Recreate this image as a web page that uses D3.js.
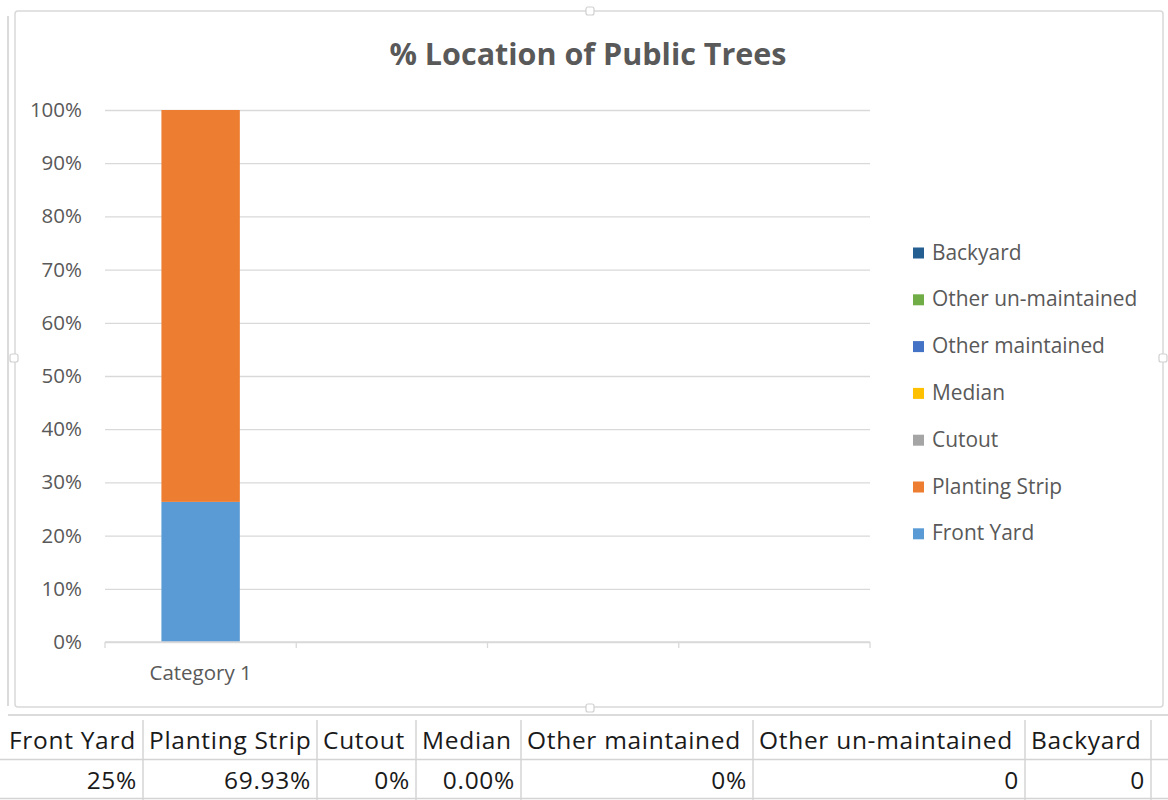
<!DOCTYPE html>
<html>
<head>
<meta charset="utf-8">
<script src="https://cdn.jsdelivr.net/npm/d3@7"></script>
<style>
  body { margin: 0; background: #fff; }
  svg { display: block; font-family: "Open Sans", Lato, sans-serif; }
</style>
</head>
<body>
<div id="chart"></div>
<script>
// data
const series = ["Front Yard", "Planting Strip", "Cutout", "Median", "Other maintained", "Other un-maintained", "Backyard"]
const values = [0.25, 0.6993, 0, 0, 0, 0, 0]
const tableValues = ["25%", "69.93%", "0%", "0.00%", "0%", "0", "0"]
const categories = ["Category 1", "", "", ""]
const colors = ["#5b9bd5", "#ed7d31", "#a5a5a5", "#ffc000", "#4472c4", "#70ad47", "#255e91"]

const width = 1168, height = 800
const plot = { left: 105, right: 870, top: 110, bottom: 642 }
const grey = "#595959", line = "#d9d9d9"

const svg = d3.select("#chart").append("svg")
    .attr("width", width)
    .attr("height", height)

// chart frame + selection handles
svg.append("path")
    .attr("d", "M8,16 V706 M8,715 H1168")
    .attr("fill", "none").attr("stroke", "#d0d0d0").attr("stroke-width", 1.5)
svg.append("rect")
    .attr("x", 15).attr("y", 11).attr("width", 1148).attr("height", 696).attr("rx", 3)
    .attr("fill", "#fff").attr("stroke", line).attr("stroke-width", 1.5)
svg.selectAll(".handle")
    .data([[590, 11], [590, 708], [14, 358], [1163, 358]])
    .enter().append("rect")
    .attr("class", "handle")
    .attr("x", d => d[0] - 4).attr("y", d => d[1] - 4)
    .attr("width", 8).attr("height", 8).attr("rx", 2)
    .attr("fill", "#fff").attr("stroke", "#d0d0d0").attr("stroke-width", 1.2)

svg.append("text")
    .attr("x", 588).attr("y", 65)
    .attr("text-anchor", "middle")
    .attr("font-size", 30.5).attr("font-weight", "bold")
    .attr("fill", grey)
    .text("% Location of Public Trees")

const x = d3.scaleBand()
    .domain(d3.range(categories.length))
    .range([plot.left, plot.right])
    .paddingInner(0.59).paddingOuter(0.295)

const y = d3.scaleLinear().domain([0, 1]).range([plot.bottom, plot.top])

// gridlines + y labels
const yAxis = svg.append("g")
    .attr("transform", `translate(${plot.left},0)`)
    .call(d3.axisLeft(y).ticks(10, "~%").tickSize(-(plot.right - plot.left)).tickPadding(23))
yAxis.select(".domain").remove()
yAxis.selectAll("line").attr("stroke", line).attr("stroke-width", 1.3)
yAxis.selectAll("text").attr("fill", grey).attr("font-size", 20.5).attr("font-family", "Open Sans")

const row = {}
series.forEach((s, i) => row[s] = values[i])
const stacked = d3.stack().keys(series).offset(d3.stackOffsetExpand)([row])

svg.append("g").selectAll("rect")
    .data(stacked)
    .enter().append("rect")
    .attr("x", x(0))
    .attr("width", x.bandwidth())
    .attr("y", d => y(d[0][1]))
    .attr("height", d => y(d[0][0]) - y(d[0][1]))
    .attr("fill", (d, i) => colors[i])

// category axis with ticks at band edges
const xAxis = svg.append("g").attr("transform", `translate(0,${plot.bottom})`)
xAxis.append("line")
    .attr("x1", plot.left).attr("x2", plot.right)
    .attr("stroke", line).attr("stroke-width", 1.3)
const step = x.step()
xAxis.selectAll(".tick")
    .data(d3.range(categories.length + 1))
    .enter().append("line")
    .attr("x1", i => plot.left + i * step).attr("x2", i => plot.left + i * step)
    .attr("y1", 0).attr("y2", 6)
    .attr("stroke", line).attr("stroke-width", 1.3)
xAxis.selectAll(".cat")
    .data(categories)
    .enter().append("text")
    .attr("x", (d, i) => x(i) + x.bandwidth() / 2)
    .attr("y", 38)
    .attr("text-anchor", "middle")
    .attr("font-size", 20.5).attr("fill", grey)
    .text(d => d)

// legend, drawn top-down in reverse series order
const legend = svg.append("g").selectAll("g")
    .data(series.map((s, i) => ({ s, c: colors[i] })).reverse())
    .enter().append("g")
    .attr("transform", (d, i) => `translate(913,${252 + i * 46.8})`)
legend.append("rect")
    .attr("x", 0).attr("y", -4.5).attr("width", 11).attr("height", 11)
    .attr("fill", d => d.c)
legend.append("text")
    .attr("x", 19).attr("y", 7.5)
    .attr("font-size", 20.9).attr("fill", grey)
    .text(d => d.s)

// spreadsheet rows below the chart
const colEdges = [0, 143, 317, 416, 521, 753, 1025, 1151]
const sheet = svg.append("g").attr("font-size", 24.5).attr("letter-spacing", 0.7).attr("fill", "#1a1a1a")
sheet.selectAll(".vline")
    .data(colEdges.slice(1))
    .enter().append("line")
    .attr("x1", d => d).attr("x2", d => d)
    .attr("y1", 720).attr("y2", 800)
    .attr("stroke", "#d4d4d4").attr("stroke-width", 1.5)
sheet.selectAll(".hline")
    .data([759.5, 798.5])
    .enter().append("line")
    .attr("x1", 0).attr("x2", 1168)
    .attr("y1", d => d).attr("y2", d => d)
    .attr("stroke", "#d4d4d4").attr("stroke-width", 1.5)
sheet.selectAll(".head")
    .data(series)
    .enter().append("text")
    .attr("x", (d, i) => colEdges[i] + (i ? 6 : 9))
    .attr("y", 749)
    .text(d => d)
sheet.selectAll(".val")
    .data(tableValues)
    .enter().append("text")
    .attr("x", (d, i) => colEdges[i + 1] - 6)
    .attr("y", 789)
    .attr("text-anchor", "end")
    .text(d => d)
</script>
</body>
</html>
